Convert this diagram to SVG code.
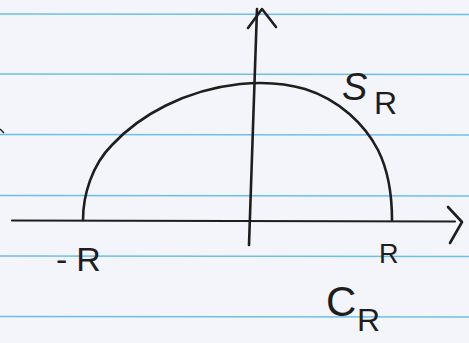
<svg xmlns="http://www.w3.org/2000/svg" width="469" height="343" viewBox="0 0 469 343">
<style>
.rule{stroke:#6cc0e6;stroke-width:1.6;fill:none}
.ink{stroke:#1e1e1e;stroke-width:2.6;fill:none;stroke-linecap:round;stroke-linejoin:round}
.lbl{font-family:"Liberation Sans",Arial,sans-serif;fill:#1e1e1e}
</style>
<rect width="469" height="343" fill="#f3f5fa"/>
<g id="paper">
<line class="rule" x1="0" y1="14" x2="469" y2="14.5"/>
<line class="rule" x1="0" y1="74" x2="469" y2="74.5"/>
<line class="rule" x1="0" y1="134.5" x2="469" y2="135"/>
<line class="rule" x1="0" y1="195.5" x2="469" y2="196"/>
<line class="rule" x1="0" y1="256" x2="469" y2="256.5"/>
<line class="rule" x1="0" y1="316.5" x2="469" y2="317"/>
<path d="M0 129 L4 133" stroke="#1e1e1e" stroke-width="1.5"/>
</g>
<g id="connectors">
<path id="real-axis" class="ink" d="M12 220.5 L455 221.5" style="stroke-width:2.2"/>
<path class="ink" d="M448 207 L462 222 L450 243"/>
<path id="imag-axis" class="ink" d="M249 245 L257 9"/>
<path class="ink" d="M248 28 L262 9 L276 27"/>
</g>
<g id="semicircle">
<path class="ink" d="M83 220 C83 195 92 165 112 145 C140 115 185 90 240 84 C260 82 285 83 305 89 C340 100 365 125 378 150 C388 170 392 195 392 220"/>
</g>
<g id="label-SR">
<text class="lbl" x="342" y="100" font-size="38" font-style="italic">S</text>
<text class="lbl" x="374" y="114" font-size="32">R</text>
</g>
<g id="label-minusR">
<text class="lbl" x="56" y="271" font-size="34" letter-spacing="9">-R</text>
</g>
<g id="label-R">
<text class="lbl" x="379" y="263" font-size="27">R</text>
</g>
<g id="label-CR">
<text class="lbl" x="326" y="316" font-size="42">C</text>
<text class="lbl" x="357" y="331" font-size="32">R</text>
</g>
</svg>
